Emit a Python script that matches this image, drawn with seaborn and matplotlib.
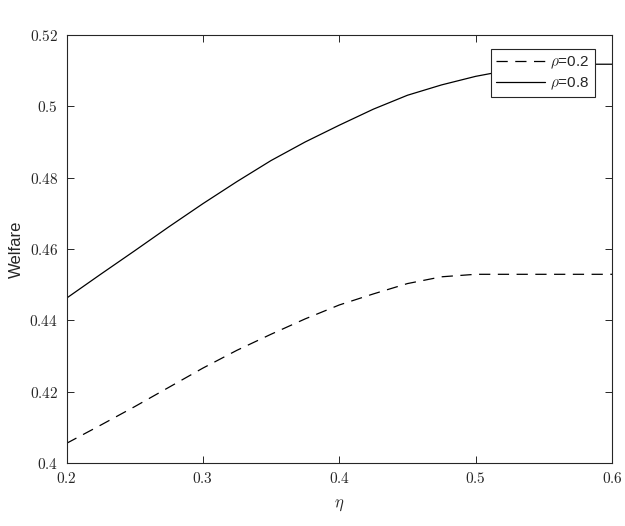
import pandas as pd
import matplotlib
matplotlib.use("Agg")
import matplotlib.pyplot as plt
from matplotlib.ticker import FuncFormatter
import seaborn as sns

# values
eta = [0.2, 0.225, 0.25, 0.275, 0.3, 0.325, 0.35, 0.375, 0.4,
       0.425, 0.45, 0.475, 0.5, 0.525, 0.55, 0.575, 0.6]
welfare_rho02 = [0.4055, 0.4106, 0.4158, 0.4212, 0.4266, 0.4316, 0.4361, 0.4404, 0.4443,
                 0.4474, 0.4503, 0.4522, 0.4529, 0.4529, 0.4529, 0.4529, 0.4529]
welfare_rho08 = [0.4462, 0.4529, 0.4595, 0.4662, 0.4727, 0.4789, 0.4848, 0.4900, 0.4947,
                 0.4992, 0.5031, 0.5060, 0.5084, 0.5102, 0.5113, 0.5118, 0.5118]
labels = [r"$\rho$=0.2", r"$\rho$=0.8"]

df = pd.concat([
    pd.DataFrame({"eta": eta, "welfare": welfare_rho02, "rho": labels[0]}),
    pd.DataFrame({"eta": eta, "welfare": welfare_rho08, "rho": labels[1]}),
])

sns.set_style("ticks")
plt.rcParams["mathtext.fontset"] = "cm"
plt.rcParams["font.family"] = ["Liberation Sans", "DejaVu Sans"]

fig = plt.figure(figsize=(6.25, 5.26), dpi=100)
ax = fig.add_axes([0.1064, 0.1198, 0.8728, 0.8137])

sns.lineplot(data=df, x="eta", y="welfare", hue="rho", style="rho",
             palette={labels[0]: "black", labels[1]: "black"},
             dashes={labels[0]: (9, 6), labels[1]: ""},
             linewidth=0.9, ax=ax)

ax.set_xlim(0.2, 0.6)
ax.set_ylim(0.4, 0.52)
ax.set_xticks([0.2, 0.3, 0.4, 0.5, 0.6])
ax.set_yticks([0.4, 0.42, 0.44, 0.46, 0.48, 0.5, 0.52])
fmt = FuncFormatter(lambda v, p: f"${v:g}$")
ax.xaxis.set_major_formatter(fmt)
ax.yaxis.set_major_formatter(fmt)
ax.tick_params(direction="in", length=5, width=0.7, labelsize=11,
               top=True, right=True, colors="#262626", pad=6)
for s in ax.spines.values():
    s.set_linewidth(0.8)
    s.set_color("#262626")

ax.set_xlabel(r"$\eta$", fontsize=12, labelpad=8)
ax.set_ylabel("Welfare", fontsize=12, labelpad=4)

leg = ax.legend(loc="upper right", bbox_to_anchor=(0.968, 0.967), fontsize=11,
                borderaxespad=0, frameon=True, fancybox=False, framealpha=1,
                edgecolor="#262626", handlelength=3.2, borderpad=0.35,
                labelspacing=0.3, handletextpad=0.3)
leg.get_frame().set_linewidth(0.8)

fig.savefig("out.png", dpi=100)
